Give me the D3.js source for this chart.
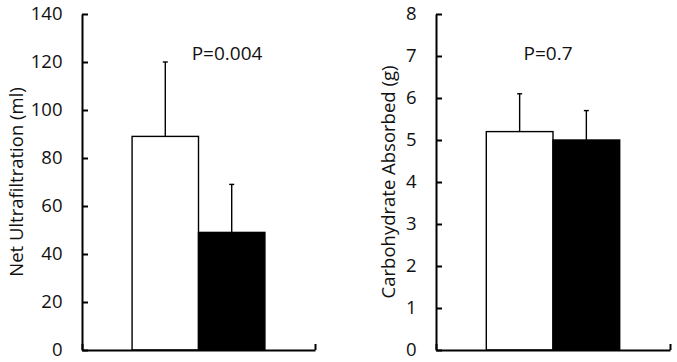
<!DOCTYPE html>
<html>
<head>
<meta charset="utf-8">
<script src="https://cdn.jsdelivr.net/npm/d3@7"></script>
<style>
  html, body { margin: 0; padding: 0; background: #fff; }
  svg { display: block; }
  text { font-family: "Open Sans", Lato, sans-serif; fill: #111; }
</style>
</head>
<body>
<svg id="chart" width="677" height="362"></svg>
<script>
// ---- data ----
const series = ["Group A", "Group B"];
const seriesFill = ["#ffffff", "#000000"];

const ufValues = [89, 49];
const ufErrors = [31, 20];
const ufTicks = [0, 20, 40, 60, 80, 100, 120, 140];
const ufLabel = "Net Ultrafiltration (ml)";
const ufP = "P=0.004";

const choValues = [5.2, 5.0];
const choErrors = [0.9, 0.7];
const choTicks = [0, 1, 2, 3, 4, 5, 6, 7, 8];
const choLabel = "Carbohydrate Absorbed (g)";
const choP = "P=0.7";

const svg = d3.select("#chart");
const FS = 18.5;
const FONT = "'Open Sans', Lato, sans-serif";

function panel(cfg) {
  const g = svg.append("g");
  const y = d3.scaleLinear().domain([cfg.ticks[0], cfg.ticks[cfg.ticks.length - 1]]).range([350, 14]);
  const xg = d3.scaleBand().domain(["g"]).range([cfg.x0, cfg.x1]).paddingInner(0).paddingOuter(0.377);
  const xs = d3.scaleBand().domain(series).range([xg("g"), xg("g") + xg.bandwidth()]).padding(0);

  // bars
  g.selectAll("rect.bar").data(cfg.values).join("rect")
    .attr("class", "bar")
    .attr("x", (d, i) => xs(series[i]))
    .attr("width", xs.bandwidth())
    .attr("y", d => y(d))
    .attr("height", d => y(0) - y(d))
    .attr("fill", (d, i) => seriesFill[i])
    .attr("stroke", "#000")
    .attr("stroke-width", 1.4);

  // error bars (upper only)
  const eb = g.selectAll("g.err").data(cfg.values).join("g").attr("class", "err");
  eb.append("line")
    .attr("x1", (d, i) => xs(series[i]) + xs.bandwidth() / 2)
    .attr("x2", (d, i) => xs(series[i]) + xs.bandwidth() / 2)
    .attr("y1", d => y(d))
    .attr("y2", (d, i) => y(d + cfg.errors[i]))
    .attr("stroke", "#000").attr("stroke-width", 1.4);
  eb.append("line")
    .attr("x1", (d, i) => xs(series[i]) + xs.bandwidth() / 2 - 2.5)
    .attr("x2", (d, i) => xs(series[i]) + xs.bandwidth() / 2 + 2.5)
    .attr("y1", (d, i) => y(d + cfg.errors[i]))
    .attr("y2", (d, i) => y(d + cfg.errors[i]))
    .attr("stroke", "#000").attr("stroke-width", 1.4);

  // y axis
  const ya = g.append("g").attr("transform", `translate(${cfg.x0},0)`)
    .call(d3.axisLeft(y).tickValues(cfg.ticks).tickSizeInner(-6).tickSizeOuter(0).tickPadding(19.5).tickFormat(d3.format("d")));
  ya.select(".domain").attr("stroke", "#000").attr("stroke-width", 2);
  ya.selectAll(".tick line").attr("stroke", "#000").attr("stroke-width", 2);
  ya.selectAll(".tick text").attr("font-size", FS).attr("font-family", FONT).attr("fill", "#111");

  // x axis
  const xl = d3.scaleLinear().domain([0, 1]).range([cfg.x0, cfg.x1]);
  const xa = g.append("g").attr("transform", `translate(0,${y(0)})`)
    .call(d3.axisBottom(xl).tickValues([0, 1]).tickSizeInner(-6).tickSizeOuter(0).tickFormat(""));
  xa.select(".domain").attr("stroke", "#000").attr("stroke-width", 2);
  xa.selectAll(".tick line").attr("stroke", "#000").attr("stroke-width", 2);

  // axis title
  g.append("text")
    .attr("transform", `translate(${cfg.labelX},182) rotate(-90)`)
    .attr("text-anchor", "middle")
    .attr("font-size", FS)
    .text(cfg.label);

  // p value
  g.append("text")
    .attr("x", cfg.px).attr("y", 60)
    .attr("text-anchor", "middle")
    .attr("font-size", 19)
    .text(cfg.p);
}

panel({ x0: 82, x1: 315, ticks: ufTicks, values: ufValues, errors: ufErrors, label: ufLabel, labelX: 23, p: ufP, px: 227 });
panel({ x0: 436, x1: 670, ticks: choTicks, values: choValues, errors: choErrors, label: choLabel, labelX: 395, p: choP, px: 548 });
</script>
</body>
</html>
